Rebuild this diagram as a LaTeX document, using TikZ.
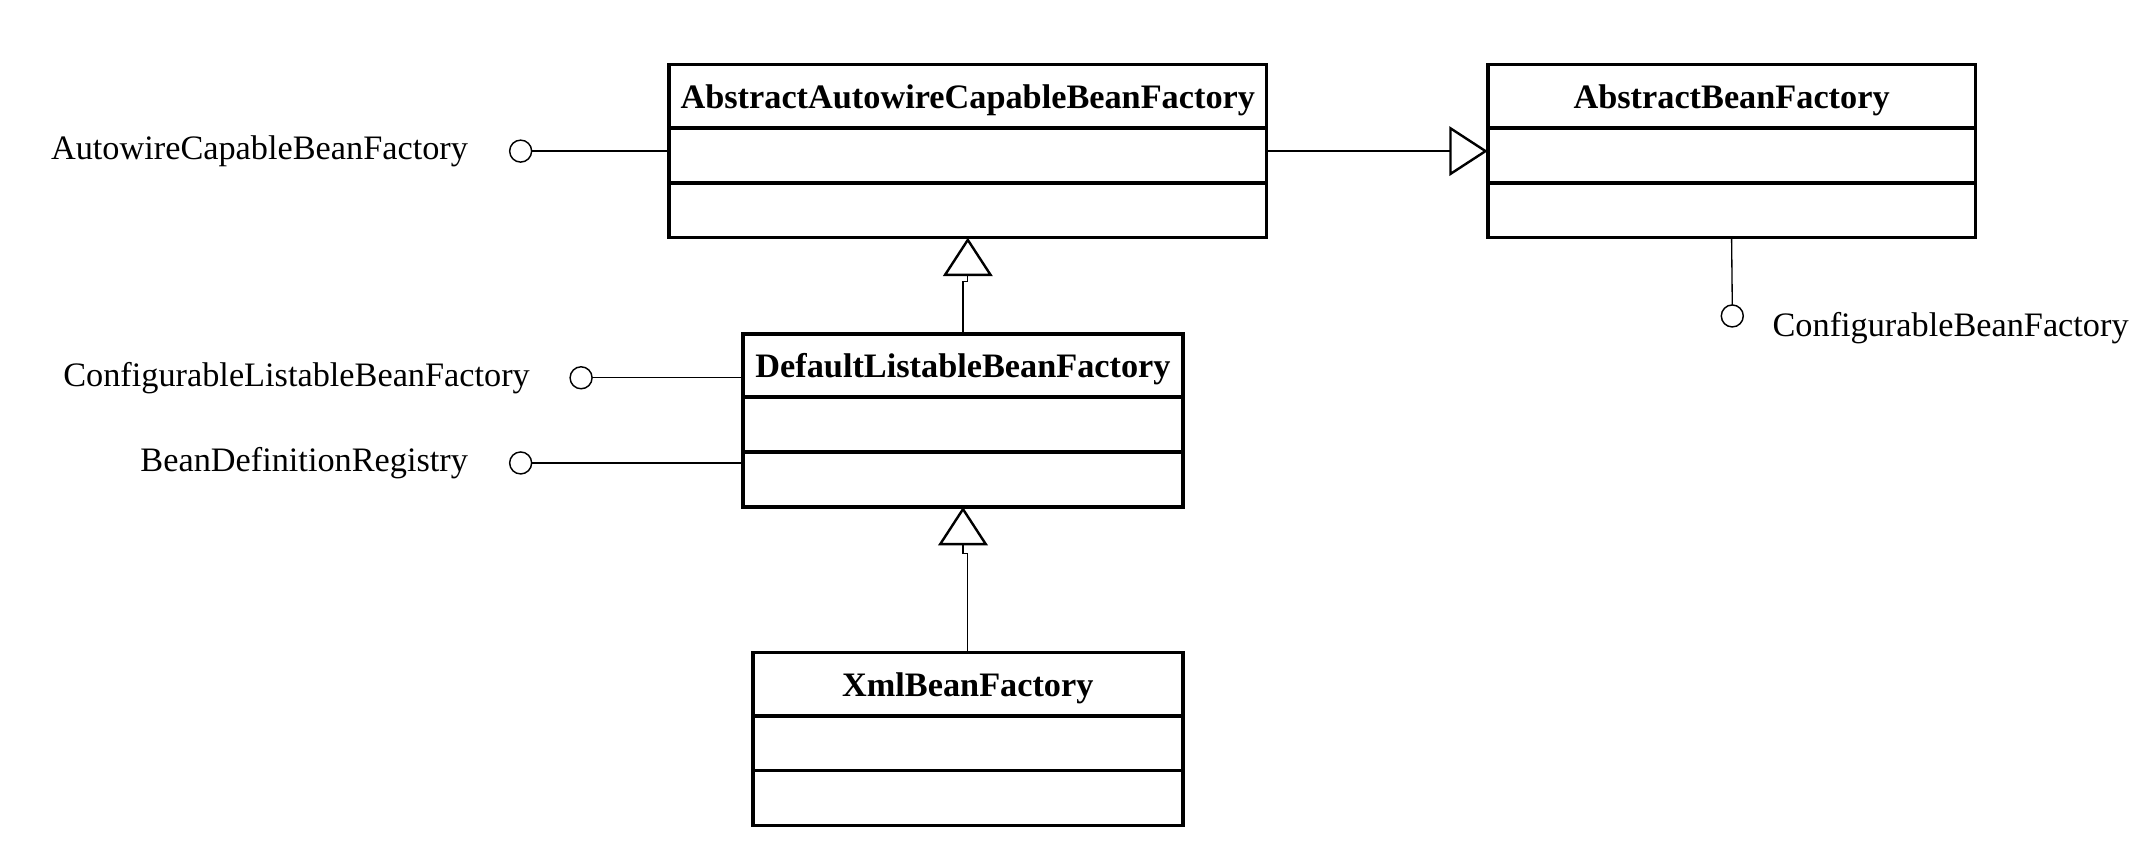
\documentclass[tikz,border=0pt]{standalone}
\usepackage{fontspec}
\setmainfont{Liberation Serif}
\usetikzlibrary{positioning,arrows.meta}

\tikzset{
  classname/.style={draw, line width=1.5pt, outer sep=0pt, inner sep=0pt,
    minimum height=0.92cm, text height=0.46cm, text depth=0.1cm,
    font=\fontsize{14.2}{17}\selectfont\bfseries},
  classpart/.style={draw, line width=1.5pt, outer sep=0pt, inner sep=0pt,
    minimum height=0.8cm},
  iface/.style={draw, circle, line width=0.6pt, minimum size=0.32cm,
    inner sep=0pt, outer sep=0pt},
  ifacelabel/.style={inner sep=0pt, font=\fontsize{14.2}{17}\selectfont},
  link/.style={line width=0.55pt},
  inherit/.style={line width=0.55pt,
    -{Triangle[open, length=0.56cm, width=0.72cm, line width=1pt]}},
}

\begin{document}
\begin{tikzpicture}
	\useasboundingbox (0,0) rectangle (31.36,-12.56);
	% classes
	\node[classname, minimum width=8.7cm, anchor=north] (aa) at (14.09,-0.94) {AbstractAutowireCapableBeanFactory};
	\node[classpart, minimum width=8.7cm, below=0pt of aa] (aa-attr) {};
	\node[classpart, minimum width=8.7cm, below=0pt of aa-attr] (aa-op) {};
	\node[classname, minimum width=7.1cm, anchor=north] (ab) at (25.21,-0.94) {AbstractBeanFactory};
	\node[classpart, minimum width=7.1cm, below=0pt of ab] (ab-attr) {};
	\node[classpart, minimum width=7.1cm, below=0pt of ab-attr] (ab-op) {};
	\node[classname, minimum width=6.4cm, anchor=north] (dl) at (14.02,-4.86) {DefaultListableBeanFactory};
	\node[classpart, minimum width=6.4cm, below=0pt of dl] (dl-attr) {};
	\node[classpart, minimum width=6.4cm, below=0pt of dl-attr] (dl-op) {};
	\node[classname, minimum width=6.26cm, anchor=north] (xb) at (14.09,-9.5) {XmlBeanFactory};
	\node[classpart, minimum width=6.26cm, below=0pt of xb] (xb-attr) {};
	\node[classpart, minimum width=6.26cm, below=0pt of xb-attr] (xb-op) {};
	% interfaces
	\node[iface] (acbf) at (7.58,-2.2) {};
	\node[ifacelabel, left=0.6cm of acbf] (acbf-l) {AutowireCapableBeanFactory};
	\node[iface] (clbf) at (8.46,-5.5) {};
	\node[ifacelabel, left=0.58cm of clbf] (clbf-l) {ConfigurableListableBeanFactory};
	\node[iface] (bdr) at (7.58,-6.74) {};
	\node[ifacelabel, left=0.6cm of bdr] (bdr-l) {BeanDefinitionRegistry};
	\node[iface] (cbf) at (25.22,-4.6) {};
	\node[ifacelabel, right=0.42cm of cbf, yshift=-0.18cm] (cbf-l) {ConfigurableBeanFactory};
	% connectors
	\draw[link] (acbf.east) -- (acbf -| aa-attr.west);
	\draw[link] (clbf.east) -- (clbf -| dl.west);
	\draw[link] (bdr.east) -- (bdr -| dl-op.west);
	\draw[link] (ab-op.south) -- (cbf.north);
	\draw[inherit] (acbf -| aa-attr.east) -- (acbf -| ab-attr.west);
	\draw[inherit] (dl.north) -- ++(0,0.76) -| (aa-op.south);
	\draw[inherit] (xb.north) -- ++(0,1.44) -| (dl-op.south);
\end{tikzpicture}
\end{document}
